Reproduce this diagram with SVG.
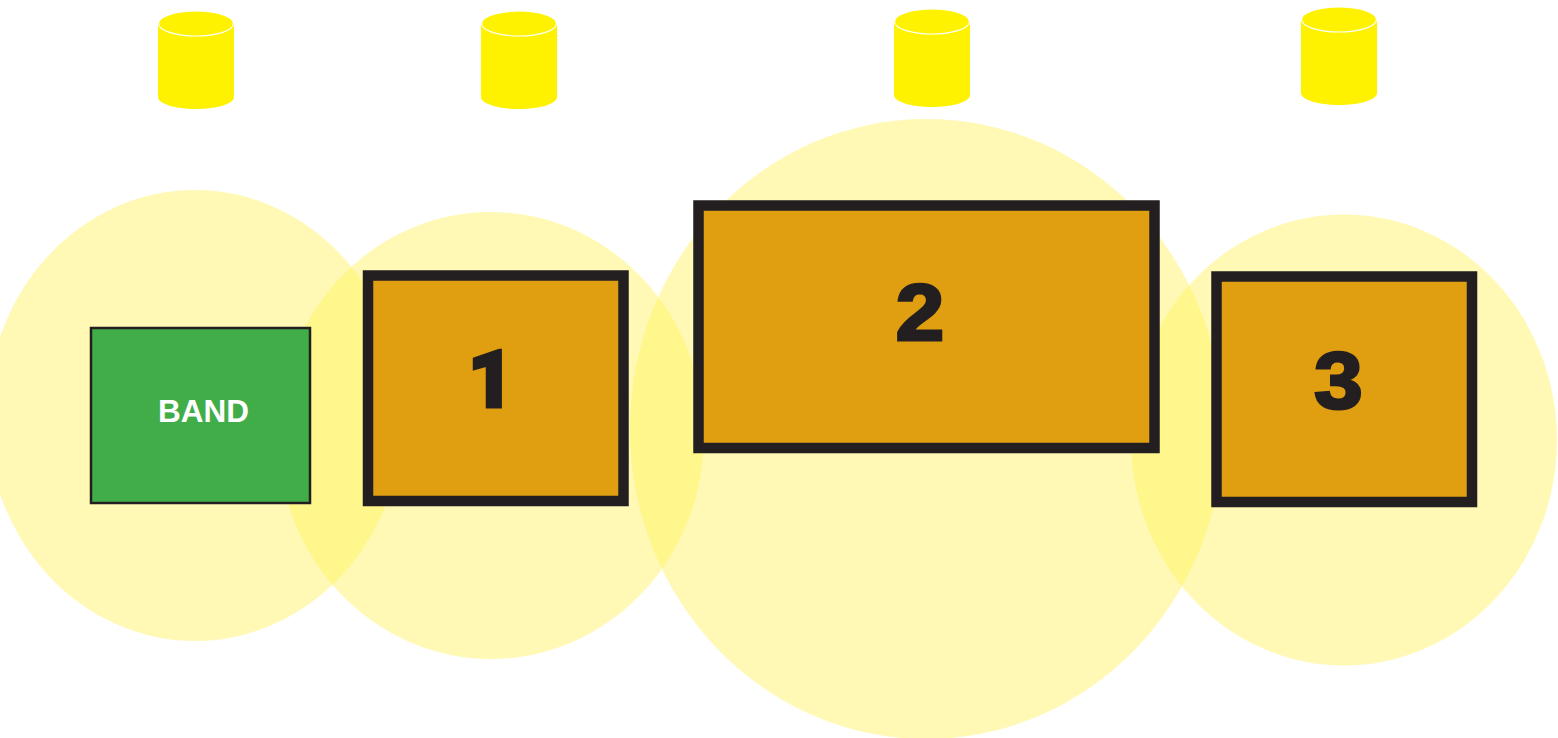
<svg xmlns="http://www.w3.org/2000/svg" width="1558" height="738" viewBox="0 0 1558 738">
<defs>
<g id="can">
<path d="M-38 -75V-2C-38 5 -20 10 0 10S38 5 38 -2V-75Z" fill="#fff200"/>
<ellipse cx="0" cy="-75.500" rx="37.500" ry="12.500" fill="#fff200" stroke="#fff" stroke-width="1.200"/>
</g>
</defs>
<style>
.pool{fill:#fff25a;fill-opacity:.45}
.stage{fill:#e09e11;stroke:#231f20;stroke-width:10.5}
.num{font-family:"Liberation Sans",Arial,sans-serif;font-weight:700;font-size:79px;fill:#231f20;stroke:#231f20;stroke-width:3;text-anchor:middle}
</style>
<rect width="1558" height="738" fill="#fff"/>
<g id="pools">
<ellipse class="pool" cx="195" cy="415.500" rx="208" ry="225.500"/>
<ellipse class="pool" cx="491" cy="435.500" rx="213" ry="223.500"/>
<ellipse class="pool" cx="926.500" cy="429" rx="296.500" ry="310"/>
<ellipse class="pool" cx="1344" cy="440" rx="213" ry="225.500"/>
</g>
<g id="connectors"></g>
<g id="light-1"><use href="#can" x="196" y="99"/></g>
<g id="light-2"><use href="#can" x="519" y="99"/></g>
<g id="light-3"><use href="#can" x="932" y="97"/></g>
<g id="light-4"><use href="#can" x="1339" y="95"/></g>
<g id="band">
<rect x="91" y="328" width="219" height="175" fill="#41ad49" stroke="#231f20" stroke-width="2.500"/>
<text x="203.500" y="422" font-family="&quot;Liberation Sans&quot;,Arial,sans-serif" font-weight="700" font-size="31.500" fill="#fff" text-anchor="middle">BAND</text>
</g>
<g id="stage-1">
<rect class="stage" x="368" y="275.500" width="255.500" height="225.500"/>
<text class="num" style="font-family:Roboto,sans-serif;font-weight:900;font-size:80px" x="491" y="406.500">1</text>
</g>
<g id="stage-2">
<rect class="stage" x="698.500" y="205.500" width="456" height="242.500"/>
<text class="num" transform="translate(920,339.500) scale(1.1,1)">2</text>
</g>
<g id="stage-3">
<rect class="stage" x="1216.500" y="276.500" width="255.500" height="225.500"/>
<text class="num" transform="translate(1338.500,407.500) scale(1.1,1)">3</text>
</g>
</svg>
